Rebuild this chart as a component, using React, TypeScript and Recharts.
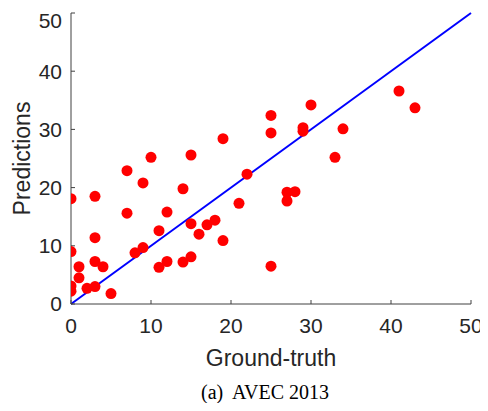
import React from "react";
import {
  ScatterChart,
  Scatter,
  XAxis,
  YAxis,
  ReferenceLine,
} from "recharts";

// ground-truth scores
const truth = [
  0, 0, 0, 0, 1, 1, 2, 3, 3, 4, 3, 3, 5, 7, 7, 8, 9, 9, 10, 11, 11, 12, 12, 14,
  14, 15, 15, 15, 16, 17, 18, 19, 21, 22, 19, 25, 25, 30, 29, 29, 34, 33, 41,
  43, 27, 28, 27, 25,
];
// predicted scores
const predicted = [
  18.1, 9, 3.1, 2.2, 6.4, 4.5, 2.7, 3.0, 7.3, 6.4, 11.4, 18.5, 1.8, 22.9, 15.6,
  8.8, 9.7, 20.8, 25.2, 12.6, 6.3, 7.3, 15.8, 7.2, 19.8, 25.6, 13.8, 8.1, 12.0,
  13.6, 14.4, 10.9, 17.3, 22.3, 28.4, 32.4, 29.4, 34.2, 30.3, 29.7, 30.1, 25.2,
  36.6, 33.7, 19.2, 19.3, 17.7, 6.5,
];
const diagonal = [0, 50];
const ticks = [0, 10, 20, 30, 40, 50];

const points = truth.map((x, i) => ({ x, y: predicted[i] }));

const axisColor = "#404040";
const tickStyle = {
  fontFamily: "Liberation Sans, Arial, sans-serif",
  fontSize: 21,
  fill: "#262626",
};
const labelFont = "Liberation Sans, Arial, sans-serif";

const Dot = (props: any) => (
  <circle cx={props.cx} cy={props.cy} r={5.5} fill="#ff0000" />
);

const XLabel = (props: any) => {
  const vb = props.viewBox;
  return (
    <text
      x={vb.x + vb.width / 2}
      y={vb.y + 62}
      textAnchor="middle"
      fontFamily={labelFont}
      fontSize={23}
      fill="#262626"
    >
      Ground-truth
    </text>
  );
};

const YLabel = (props: any) => {
  const vb = props.viewBox;
  const cy = vb.y + vb.height / 2;
  return (
    <text
      x={14}
      y={cy}
      transform={`rotate(-90, 14, ${cy})`}
      textAnchor="middle"
      dominantBaseline="central"
      fontFamily={labelFont}
      fontSize={23}
      fill="#262626"
    >
      Predictions
    </text>
  );
};

export default function App() {
  return (
    <div style={{ position: "relative", width: 480, height: 395 }}>
      <ScatterChart
        width={480}
        height={370}
        margin={{ top: 5, right: 17, left: 13, bottom: 34 }}
      >
        <XAxis
          type="number"
          dataKey="x"
          domain={[0, 50]}
          ticks={ticks}
          allowDataOverflow
          height={40}
          stroke={axisColor}
          tickSize={-4}
          tickMargin={18}
          tick={tickStyle}
          label={<XLabel />}
        />
        <YAxis
          type="number"
          dataKey="y"
          domain={[0, 50]}
          ticks={ticks}
          allowDataOverflow
          width={50}
          stroke={axisColor}
          tickSize={-4}
          tickMargin={13}
          tick={tickStyle}
          label={<YLabel />}
        />
        <ReferenceLine
          segment={[
            { x: diagonal[0], y: diagonal[0] },
            { x: diagonal[1], y: diagonal[1] },
          ]}
          stroke="#0000ff"
          strokeWidth={2}
          ifOverflow="visible"
        />
        <Scatter data={points} shape={<Dot />} isAnimationActive={false} />
      </ScatterChart>
      <div
        style={{
          position: "absolute",
          left: 100,
          top: 372,
          width: 300,
          textAlign: "center",
          fontFamily: "Liberation Serif, serif",
          fontSize: 20,
          lineHeight: "24px",
          whiteSpace: "pre",
          color: "#000",
          transform: "translateX(7px)",
        }}
      >
        {"(a)  AVEC 2013"}
      </div>
    </div>
  );
}
